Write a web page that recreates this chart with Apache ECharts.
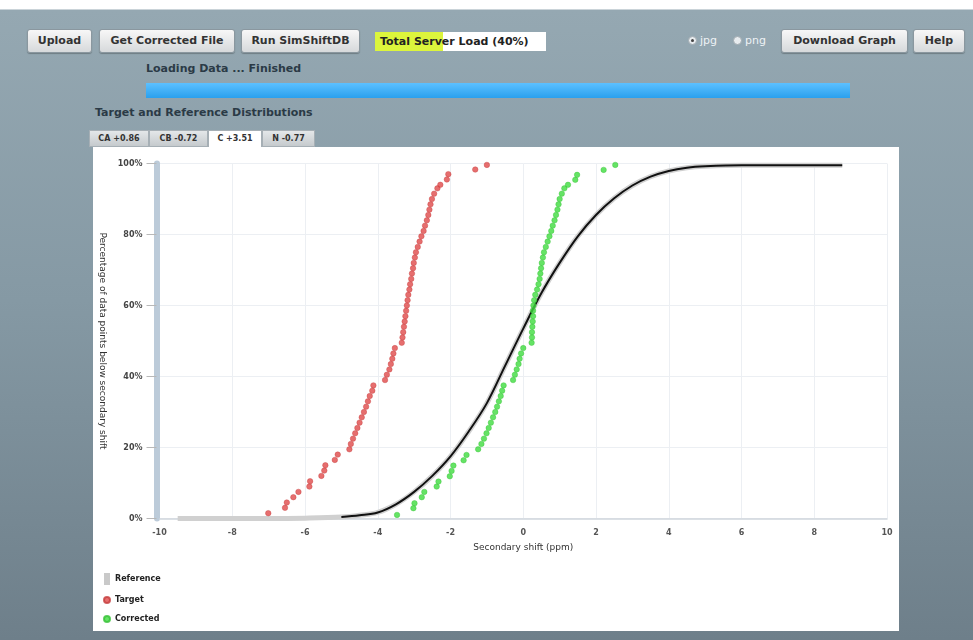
<!DOCTYPE html>
<html>
<head>
<meta charset="utf-8">
<title>Target and Reference Distributions</title>
<script src="https://cdn.jsdelivr.net/npm/echarts@6/dist/echarts.min.js"></script>
<style>
    html, body { margin: 0; padding: 0; }
    body {
        width: 973px; height: 640px; overflow: hidden; position: relative;
        font-family: "DejaVu Sans", sans-serif;
        background: linear-gradient(#ffffff 0px, #ffffff 9px, #95a8b2 10px, #8599a4 300px, #6e7f8a 640px);
    }
    .btn {
        position: absolute; top: 29px; height: 24px; box-sizing: border-box;
        border: 1px solid #8a979f; border-radius: 3px;
        background: linear-gradient(#f7f7f7, #d6d9db);
        font-weight: bold; font-size: 11px; color: #333; line-height: 22px; text-align: center;
        box-shadow: 0 1px 1px rgba(0,0,0,0.25);
    }
    .load {
        position: absolute; left: 375px; top: 32px; width: 171px; height: 19px;
        background: linear-gradient(90deg, #dcf53c 0px, #dcf53c 68px, #ffffff 68px);
        font-weight: bold; font-size: 11px; color: #222; line-height: 19px; padding-left: 5px; box-sizing: border-box;
    }
    .radio { position: absolute; top: 36px; width: 9px; height: 9px; border-radius: 50%;
        background: #e8ecef; border: 1px solid #a0aab0; box-sizing: border-box; }
    .radio.on::after { content: ""; position: absolute; left: 2px; top: 2px; width: 3px; height: 3px;
        border-radius: 50%; background: #444; }
    .rlab { position: absolute; top: 34px; font-size: 11px; color: #eef2f5; }
    .txt { position: absolute; font-weight: bold; font-size: 11px; color: #2b3a46; }
    .bar { position: absolute; left: 146px; top: 83px; width: 704px; height: 15px;
        background: linear-gradient(#5cc0ff, #2aa0ee); }
    .tab { position: absolute; top: 130px; height: 17px; box-sizing: border-box;
        background: linear-gradient(#e4e7e9, #c5cacd); border: 1px solid #a6afb5;
        font-weight: bold; font-size: 8px; color: #333; line-height: 15px; text-align: center; }
    .tab.on { background: #ffffff; border-bottom: none; }
    #panel { position: absolute; left: 93px; top: 147px; width: 806px; height: 484px; background: #fff; }
    #main { position: absolute; left: 0; top: 0; width: 973px; height: 640px; }
</style>
</head>
<body>
<div class="btn" style="left:27px;width:65px">Upload</div>
<div class="btn" style="left:99px;width:136px">Get Corrected File</div>
<div class="btn" style="left:241px;width:119px">Run SimShiftDB</div>
<div class="load">Total Server Load (40%)</div>
<div class="radio on" style="left:688px"></div>
<div class="rlab" style="left:700px">jpg</div>
<div class="radio" style="left:733px"></div>
<div class="rlab" style="left:745px">png</div>
<div class="btn" style="left:781px;width:127px">Download Graph</div>
<div class="btn" style="left:913px;width:52px">Help</div>
<div class="txt" style="left:146px;top:62px">Loading Data ... Finished</div>
<div class="bar"></div>
<div class="txt" style="left:95px;top:106px">Target and Reference Distributions</div>
<div class="tab" style="left:89px;width:60px">CA +0.86</div>
<div class="tab" style="left:149px;width:59px">CB -0.72</div>
<div class="tab on" style="left:208px;width:54px">C +3.51</div>
<div class="tab" style="left:262px;width:53px">N -0.77</div>
<div id="panel"></div>
<div id="main"></div>

<script>
    // reference distribution (ppm, % below)
    var referenceCurve = [
        [-9.5, 0], [-7, 0], [-6, 0.1], [-5, 0.4], [-4.5, 0.9], [-4, 1.7], [-3.5, 4], [-3, 7.5],
        [-2.5, 12], [-2, 17.5], [-1.5, 24.5], [-1, 32.5], [-0.5, 43], [0, 53.5], [0.5, 63.5],
        [1, 72], [1.5, 79.5], [2, 85.5], [2.5, 90.2], [3, 93.8], [3.5, 96.3], [4, 97.9],
        [4.5, 98.8], [5, 99.2], [6, 99.5], [8.77, 99.5]
    ];
    var fitStart = 3; // black line starts here

    var targetPoints = [
        [-7.01, 1.5], [-6.55, 3.0], [-6.50, 4.5], [-6.32, 6.0], [-6.18, 7.5], [-5.88, 9.0], [-5.86, 10.5],
        [-5.55, 12.0], [-5.47, 13.5], [-5.44, 15.0], [-5.18, 16.5], [-5.10, 18.0], [-4.78, 19.5],
        [-4.74, 21.0], [-4.68, 22.5], [-4.62, 24.0], [-4.56, 25.5], [-4.50, 27.0], [-4.44, 28.5],
        [-4.38, 30.0], [-4.32, 31.5], [-4.27, 33.0], [-4.22, 34.5], [-4.15, 36.0], [-4.12, 37.5],
        [-3.80, 39.0], [-3.75, 40.5], [-3.68, 42.0], [-3.64, 43.5], [-3.60, 45.0], [-3.57, 46.5],
        [-3.53, 48.0], [-3.34, 49.5], [-3.32, 51.0], [-3.30, 52.5], [-3.28, 54.0], [-3.26, 55.5],
        [-3.24, 57.0], [-3.22, 58.5], [-3.20, 60.0], [-3.18, 61.5], [-3.16, 63.0], [-3.13, 64.5],
        [-3.11, 66.0], [-3.08, 67.5], [-3.06, 69.0], [-3.03, 70.5], [-3.01, 72.0], [-2.98, 73.5],
        [-2.95, 75.0], [-2.90, 76.5], [-2.85, 78.0], [-2.80, 79.5], [-2.74, 81.0], [-2.70, 82.5],
        [-2.65, 84.0], [-2.61, 85.5], [-2.58, 87.0], [-2.55, 88.5], [-2.51, 90.0], [-2.45, 91.5],
        [-2.36, 93.0], [-2.28, 94.0], [-2.10, 95.5], [-2.06, 97.0], [-1.32, 98.3], [-1.0, 99.6]
    ];

    var correctedPoints = [
        [-3.47, 1.0], [-3.02, 2.9], [-2.99, 4.3], [-2.79, 6.0], [-2.72, 7.5], [-2.38, 9.0], [-2.33, 10.4],
        [-2.02, 11.9], [-1.97, 13.4], [-1.92, 14.9], [-1.64, 16.4], [-1.56, 17.9], [-1.24, 19.5],
        [-1.15, 21.0], [-1.08, 22.5], [-1.01, 24.0], [-0.95, 25.5], [-0.89, 27.0], [-0.83, 28.5],
        [-0.77, 30.0], [-0.72, 31.5], [-0.67, 33.0], [-0.62, 34.5], [-0.58, 36.0], [-0.54, 37.5],
        [-0.28, 39.0], [-0.23, 40.5], [-0.18, 42.0], [-0.13, 43.5], [-0.10, 45.0], [-0.06, 46.5],
        [0.0, 48.0], [0.23, 49.5], [0.24, 51.0], [0.24, 52.5], [0.25, 54.0], [0.26, 55.5], [0.27, 57.0],
        [0.27, 58.5], [0.28, 60.0], [0.30, 61.5], [0.33, 63.0], [0.38, 64.5], [0.42, 66.0], [0.45, 67.5],
        [0.47, 69.0], [0.49, 70.5], [0.51, 72.0], [0.54, 73.5], [0.57, 75.0], [0.62, 76.5], [0.67, 78.0],
        [0.72, 79.5], [0.77, 81.0], [0.81, 82.5], [0.86, 84.0], [0.90, 85.5], [0.94, 87.0], [0.97, 88.5],
        [1.0, 90.0], [1.06, 91.5], [1.13, 93.0], [1.23, 94.0], [1.43, 95.4], [1.48, 96.8], [2.21, 98.2],
        [2.53, 99.6]
    ];

    var legendNames = ['Reference', 'Target', 'Corrected'];

    var myChart = echarts.init(document.getElementById('main'));
    var lblFont = { fontFamily: 'DejaVu Sans', fontSize: 8, fontWeight: 'bold', color: '#555' };

    myChart.setOption({
        animation: false,
        textStyle: { fontFamily: 'DejaVu Sans' },
        grid: { left: 159.5, right: 86, top: 163.5, bottom: 121.5 },
        legend: {
            orient: 'vertical',
            left: 98, top: 568,
            itemWidth: 6, itemHeight: 12, itemGap: 11,
            data: [
                { name: legendNames[0], icon: 'rect' },
                { name: legendNames[1], icon: 'circle' },
                { name: legendNames[2], icon: 'circle' }
            ],
            textStyle: { fontFamily: 'DejaVu Sans', fontSize: 8, fontWeight: 'bold', color: '#222' }
        },
        xAxis: {
            type: 'value',
            min: -10, max: 10, interval: 2,
            name: 'Secondary shift (ppm)',
            nameLocation: 'middle', nameGap: 25,
            nameTextStyle: { fontFamily: 'DejaVu Sans', fontSize: 9, color: '#333' },
            axisLine: { onZero: false, lineStyle: { color: '#cfd6dd', width: 1.5 } },
            axisTick: { show: false },
            axisLabel: Object.assign({ margin: 10 }, lblFont),
            splitLine: { lineStyle: { color: '#eceff3' } }
        },
        yAxis: {
            type: 'value',
            min: 0, max: 100, interval: 20,
            offset: 3,
            name: 'Percentage of data points below secondary shift',
            nameLocation: 'middle', nameGap: 46, nameRotate: -90,
            nameTextStyle: { fontFamily: 'DejaVu Sans', fontSize: 9, color: '#333' },
            axisLine: { show: true, onZero: false, lineStyle: { color: '#bccbd9', width: 6 } },
            axisTick: { show: true, length: 10, lineStyle: { color: '#b8b8b8' } },
            axisLabel: Object.assign({ margin: 14, formatter: '{value}%' }, lblFont, { color: '#444' }),
            splitLine: { lineStyle: { color: '#eceff3' } }
        },
        series: [
            {
                name: 'Reference',
                type: 'line',
                data: referenceCurve,
                smooth: 0.35,
                symbol: 'none',
                color: '#c9c9c9',
                lineStyle: { color: '#d0d0d0', width: 5 },
                z: 2
            },
            {
                name: 'Reference fit',
                type: 'line',
                data: referenceCurve.slice(fitStart),
                smooth: 0.35,
                symbol: 'none',
                lineStyle: { color: '#111', width: 2 },
                z: 3
            },
            {
                name: 'Target',
                type: 'scatter',
                data: targetPoints,
                symbolSize: 5.5,
                itemStyle: { color: '#e04a4a', borderColor: '#c53c3c', borderWidth: 0.5 },
                z: 4
            },
            {
                name: 'Corrected',
                type: 'scatter',
                data: correctedPoints,
                symbolSize: 5.5,
                itemStyle: { color: '#3fdc3f', borderColor: '#34c034', borderWidth: 0.5 },
                z: 5
            }
        ]
    });
</script>
</body>
</html>
